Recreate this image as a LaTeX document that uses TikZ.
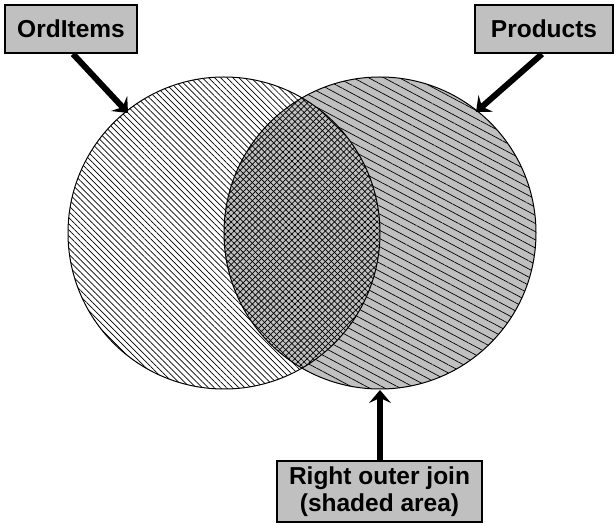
\documentclass[tikz,border=0pt]{standalone}
\usepackage{fontspec}
\setmainfont{Liberation Sans}
\usetikzlibrary{patterns.meta,arrows.meta}
\definecolor{boxgray}{RGB}{192,192,192}
\tikzset{
  label box/.style={draw=black, line width=2pt, fill=boxgray, inner sep=0pt,
    font=\fontsize{24.5}{27.5}\selectfont\bfseries, align=center},
  big arrow/.style={line width=6pt, -{Stealth[length=13pt,width=22pt,inset=5pt]}},
  hatchA/.style={pattern={Lines[angle=-45,distance=4.3pt,line width=0.7pt]}, pattern color=black},
  hatchB/.style={pattern={Lines[angle=-28,distance=7.2pt,line width=0.7pt]}, pattern color=black},
  hatchC/.style={pattern={Lines[angle=45,distance=4.3pt,line width=0.7pt]}, pattern color=black},
  ring/.style={draw=black, line width=1pt}
}
\begin{document}
\begin{tikzpicture}[x=1pt,y=-1pt]
\useasboundingbox (0,0) rectangle (616,526);
% right circle
\fill[boxgray] (380,233) circle (156);
\path[hatchB] (380,233) circle (156);
% left circle
\fill[white] (224,233) circle (156);
\path[hatchA] (224,233) circle (156);
% intersection
\begin{scope}
  \clip (224,233) circle (156);
  \fill[boxgray] (380,233) circle (156);
  \path[hatchA] (380,233) circle (156);
  \path[hatchC] (380,233) circle (156);
\end{scope}
\draw[ring] (224,233) circle (156);
\draw[ring] (380,233) circle (156);
% labels
\node[label box, minimum width=132pt, minimum height=48pt] (ord) at (71,29) {OrdItems};
\node[label box, minimum width=138pt, minimum height=48pt] (prod) at (544,29) {Products};
\node[label box, minimum width=205pt, minimum height=61pt] (join) at (379.5,491.5) {Right outer join\\(shaded area)};
% arrow targets
\coordinate (tA) at (128,113);
\coordinate (tB) at (476,112);
\coordinate (tC) at (380,390);
\draw[big arrow] (ord.south -| 73,0) -- (tA);
\draw[big arrow] (prod.south -| 542,0) -- (tB);
\draw[big arrow] (join.north -| 380,0) -- (tC);
\end{tikzpicture}
\end{document}
